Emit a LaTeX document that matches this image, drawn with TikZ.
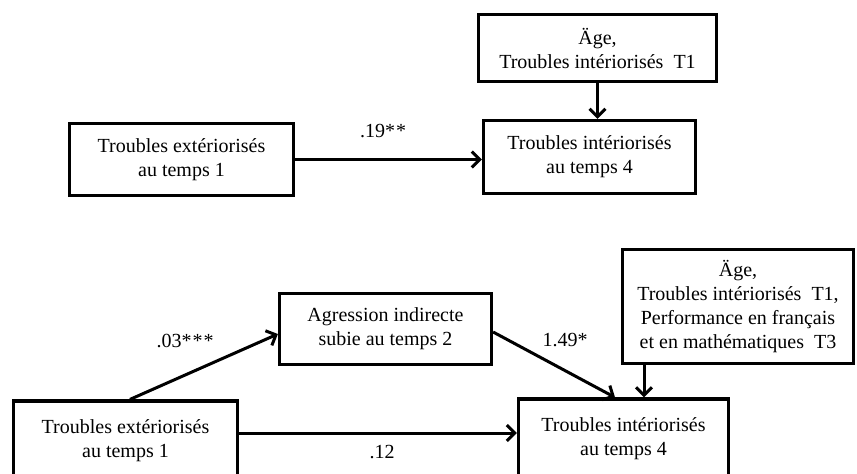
\documentclass[tikz,border=0pt]{standalone}
\usepackage{fontspec}
\setmainfont{Liberation Serif}
\usetikzlibrary{arrows.meta}

\tikzset{
  box/.style={draw, line width=3.2pt, align=center, inner sep=0pt, font=\fontsize{20}{24}\selectfont},
  coef/.style={font=\fontsize{20}{24}\selectfont},
}

\begin{document}
\begin{tikzpicture}[x=1pt, y=-1pt, line width=3pt, >={Straight Barb[length=8pt,width=16pt]}]
  \useasboundingbox (0,0) rectangle (857,474);
  \clip (0,0) rectangle (857,474);
  \node[box, minimum width=238, minimum height=67] (ageA) at (597.5,48) {Äge,\\Troubles intériorisés~~T1};
  \node[box, minimum width=212, minimum height=73] (intA) at (589.5,157) {Troubles intériorisés\\au temps 4};
  \node[box, minimum width=224, minimum height=72] (extA) at (181.5,159.5) {Troubles extériorisés\\au temps 1};
  \draw[->] (extA.east) -- (extA.east -| intA.west);
  \draw[->] (ageA.south) -- (ageA.south |- intA.north);
  \node[coef] (bA) at (383,131) {.19*\kern1pt*};

  \node[box, minimum width=224, minimum height=80] (extB) at (125.5,441) {Troubles extériorisés\\au temps 1};
  \node[box, minimum width=212, minimum height=71] (agrB) at (385.5,329) {Agression indirecte\\subie au temps 2};
  \node[box, minimum width=210, minimum height=80] (intB) at (623.5,439) {Troubles intériorisés\\au temps 4};
  \node[box, minimum width=231, minimum height=114] (ctlB) at (738,306.5) {Äge,\\Troubles intériorisés~~T1,\\Performance en français\\et en mathématiques~~T3};
  \coordinate (ctlIn) at ([xshift=20.5]intB.north);
  \coordinate (agrIn) at ([xshift=-8.5]intB.north);
  \draw[->] ([xshift=4.5]extB.north) -- ([yshift=-5]agrB.west);
  \draw[->] ([yshift=-3]agrB.east) -- (agrIn);
  \draw[->] (ctlB.south -| ctlIn) -- (ctlIn);
  \draw[->] ([yshift=8]extB.east) -- ([yshift=8]extB.east -| intB.west);
  \node[coef] (aB) at (185,341) {.03*\kern1pt*\kern1pt*};
  \node[coef] (bB) at (565,340) {1.49*};
  \node[coef] (cB) at (382,452) {.12};
\end{tikzpicture}
\end{document}
